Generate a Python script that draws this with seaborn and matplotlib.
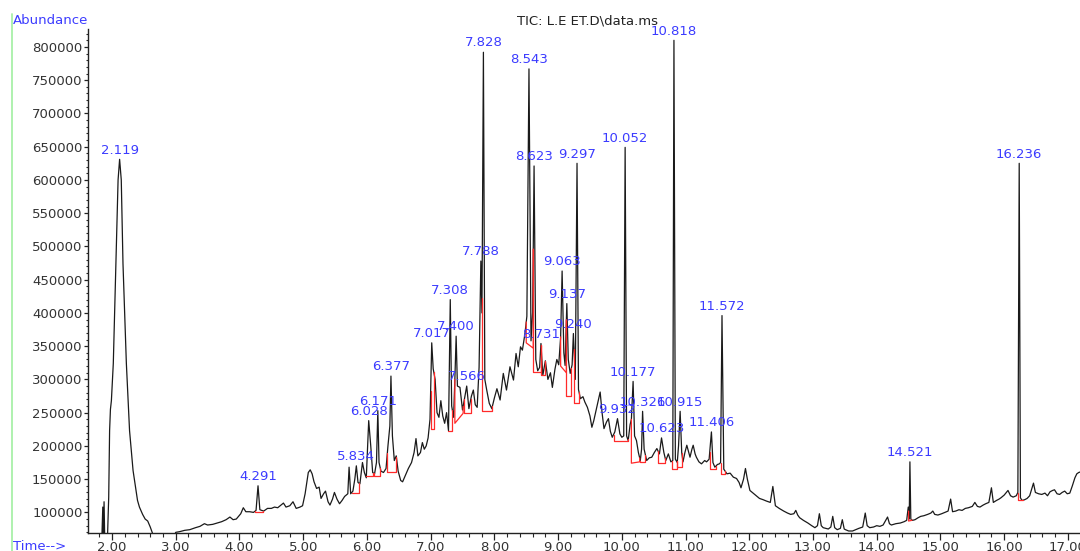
import numpy as np
import pandas as pd
import matplotlib
matplotlib.use("Agg")
import matplotlib.pyplot as plt
from matplotlib.ticker import MultipleLocator, FormatStrFormatter
import seaborn as sns

# TIC trace: retention time (min), abundance (x1000 counts)
rt = [
    1.84, 1.855, 1.865, 1.875, 1.885, 1.90, 1.93, 1.948, 1.962, 1.975, 1.99, 2.02, 2.06, 2.095,
    2.119, 2.145, 2.172, 2.225, 2.275, 2.33, 2.40, 2.43, 2.48, 2.52, 2.56, 2.60, 2.63, 2.66,
    2.80, 2.97, 3.00, 3.06, 3.14, 3.22, 3.31, 3.38, 3.45, 3.50, 3.58, 3.65, 3.72, 3.79, 3.85,
    3.90, 3.95, 4.02, 4.06, 4.10, 4.16, 4.22, 4.26, 4.291, 4.32, 4.38, 4.44, 4.50, 4.55, 4.60,
    4.65, 4.69, 4.73, 4.79, 4.84, 4.89, 4.95, 4.99, 5.03, 5.08, 5.11, 5.14, 5.17, 5.21, 5.25,
    5.28, 5.32, 5.35, 5.39, 5.42, 5.46, 5.49, 5.53, 5.57, 5.61, 5.65, 5.70, 5.72, 5.745, 5.78,
    5.81, 5.834, 5.86, 5.89, 5.93, 5.96, 5.99, 6.028, 6.06, 6.09, 6.12, 6.15, 6.171, 6.19, 6.22,
    6.26, 6.30, 6.33, 6.36, 6.377, 6.40, 6.43, 6.46, 6.49, 6.53, 6.56, 6.60, 6.65, 6.70, 6.74,
    6.77, 6.80, 6.84, 6.87, 6.90, 6.93, 6.96, 6.99, 7.017, 7.04, 7.07, 7.10, 7.13, 7.16, 7.19,
    7.22, 7.25, 7.28, 7.308, 7.33, 7.36, 7.38, 7.400, 7.42, 7.46, 7.50, 7.53, 7.566, 7.60, 7.64,
    7.67, 7.70, 7.73, 7.76, 7.788, 7.805, 7.828, 7.85, 7.88, 7.92, 7.96, 8.00, 8.04, 8.09, 8.14,
    8.19, 8.245, 8.30, 8.34, 8.375, 8.41, 8.44, 8.48, 8.51, 8.543, 8.575, 8.60, 8.623, 8.65,
    8.68, 8.71, 8.731, 8.76, 8.80, 8.84, 8.88, 8.91, 8.95, 8.98, 9.01, 9.04, 9.063, 9.09, 9.11,
    9.137, 9.16, 9.19, 9.22, 9.24, 9.27, 9.297, 9.32, 9.35, 9.39, 9.42, 9.46, 9.50, 9.53, 9.56,
    9.60, 9.66, 9.69, 9.72, 9.76, 9.79, 9.82, 9.85, 9.89, 9.932, 9.97, 10.00, 10.03, 10.052,
    10.075, 10.10, 10.13, 10.15, 10.177, 10.20, 10.23, 10.26, 10.29, 10.31, 10.326, 10.35,
    10.39, 10.43, 10.47, 10.51, 10.55, 10.59, 10.623, 10.66, 10.69, 10.73, 10.77, 10.80, 10.818,
    10.84, 10.87, 10.89, 10.915, 10.94, 10.96, 10.99, 11.02, 11.05, 11.07, 11.10, 11.12, 11.15,
    11.17, 11.21, 11.25, 11.30, 11.33, 11.37, 11.406, 11.43, 11.46, 11.50, 11.53, 11.55, 11.572,
    11.60, 11.65, 11.70, 11.75, 11.80, 11.84, 11.87, 11.91, 11.94, 11.97, 12.01, 12.06, 12.11,
    12.16, 12.22, 12.27, 12.33, 12.37, 12.41, 12.47, 12.54, 12.60, 12.65, 12.70, 12.73, 12.76,
    12.79, 12.85, 12.92, 12.98, 13.03, 13.07, 13.10, 13.13, 13.16, 13.24, 13.28, 13.31, 13.34,
    13.38, 13.43, 13.46, 13.49, 13.51, 13.56, 13.62, 13.67, 13.72, 13.78, 13.82, 13.85, 13.89,
    13.95, 14.00, 14.05, 14.10, 14.17, 14.20, 14.23, 14.30, 14.37, 14.43, 14.47, 14.495, 14.51,
    14.521, 14.535, 14.56, 14.60, 14.65, 14.69, 14.74, 14.80, 14.85, 14.88, 14.91, 14.96, 15.02,
    15.07, 15.12, 15.16, 15.19, 15.24, 15.29, 15.34, 15.39, 15.44, 15.50, 15.54, 15.58, 15.62,
    15.67, 15.71, 15.76, 15.80, 15.83, 15.88, 15.92, 15.95, 16.00, 16.06, 16.10, 16.14, 16.19,
    16.215, 16.236, 16.255, 16.28, 16.32, 16.36, 16.40, 16.44, 16.46, 16.49, 16.54, 16.59,
    16.64, 16.68, 16.72, 16.76, 16.79, 16.83, 16.87, 16.91, 16.95, 16.99, 17.03, 17.07, 17.11,
    17.14, 17.17, 17.20,
]
abund_k = [
    60, 108, 62, 116, 62, 64, 66, 123, 223, 255, 268, 324, 474, 600,
    631, 600, 474, 324, 223, 163, 118, 108, 97, 90, 87, 78, 70, 62,
    58, 64, 70, 71, 73, 74, 77, 79, 83, 81, 82, 84, 86, 89, 93,
    89, 90, 98, 107, 101, 101, 100, 103, 140, 104, 102, 106, 106, 108, 107,
    111, 114, 108, 110, 116, 106, 108, 110, 128, 160, 164, 158, 146, 136, 138,
    121, 128, 132, 116, 111, 120, 130, 120, 113, 118, 124, 128, 168, 128, 132,
    150, 170, 145, 143, 175, 160, 152, 238, 200, 160, 158, 175, 253, 175, 162,
    160, 166, 200, 230, 305, 215, 178, 185, 162, 148, 146, 155, 166, 175, 190,
    211, 185, 190, 205, 195, 200, 212, 240, 355, 316, 300, 250, 243, 268, 245,
    234, 250, 223, 420, 260, 243, 300, 365, 290, 288, 254, 270, 290, 256, 275,
    284, 262, 258, 318, 478, 400, 792, 300, 284, 264, 256, 272, 286, 269, 309,
    284, 319, 299, 339, 319, 349, 344, 369, 395, 767, 358, 400, 621, 330,
    313, 318, 354, 306, 328, 300, 310, 288, 315, 330, 322, 364, 463, 340, 321,
    414, 330, 309, 322, 369, 300, 625, 285, 271, 274, 266, 258, 245, 228, 238,
    255, 281, 250, 226, 236, 241, 222, 213, 221, 241, 218, 213, 215, 649,
    215, 208, 232, 240, 297, 215, 208, 190, 178, 195, 252, 195,
    178, 182, 183, 190, 196, 188, 212, 190, 178, 188, 176, 178, 810,
    180, 175, 200, 252, 190, 176, 190, 201, 190, 183, 195, 201, 188,
    183, 176, 173, 178, 176, 180, 221, 175, 168, 172, 173, 175, 396,
    165, 158, 159, 153, 151, 145, 137, 150, 166, 150, 133, 129, 125,
    121, 119, 117, 115, 139, 110, 106, 102, 99, 97, 98, 103, 96,
    92, 88, 84, 80, 77, 80, 98, 80, 77, 75, 78, 94, 77,
    74, 76, 89, 75, 74, 72, 72, 74, 76, 78, 99, 80, 77,
    78, 80, 79, 81, 93, 83, 81, 83, 84, 86, 88, 108, 90,
    176, 90, 88, 89, 92, 94, 95, 97, 99, 102, 97, 96, 98,
    100, 102, 120, 101, 102, 104, 103, 106, 107, 109, 115, 109, 108,
    111, 113, 115, 137, 115, 118, 120, 122, 126, 133, 125, 123, 125,
    130, 625, 122, 118, 119, 121, 125, 138, 144, 130, 128, 127,
    129, 125, 131, 133, 134, 128, 127, 130, 132, 128, 129, 140, 152,
    158, 160, 161,
]

# labelled peaks
peak_labels = ["2.119", "4.291", "5.834", "6.028", "6.171", "6.377", "7.017", "7.308", "7.400",
               "7.566", "7.788", "7.828", "8.543", "8.623", "8.731", "9.063", "9.137", "9.240",
               "9.297", "9.932", "10.052", "10.177", "10.326", "10.623", "10.818", "10.915",
               "11.406", "11.572", "14.521", "16.236"]
peak_rt = [2.119, 4.291, 5.834, 6.028, 6.171, 6.377, 7.017, 7.308, 7.400, 7.566, 7.788, 7.828,
           8.543, 8.623, 8.731, 9.063, 9.137, 9.240, 9.297, 9.932, 10.052, 10.177, 10.326,
           10.623, 10.818, 10.915, 11.406, 11.572, 14.521, 16.236]
peak_abund_k = [631, 140, 170, 238, 253, 305, 355, 420, 365, 290, 478, 792, 767, 621, 354, 463,
                414, 369, 625, 241, 649, 297, 252, 212, 810, 252, 221, 396, 176, 625]

# red integration baselines: start / end time and base level (x1000) at each end
base_start = [4.24, 5.76, 5.98, 6.11, 6.32, 7.00, 7.28, 7.38, 7.53, 7.80, 8.50, 8.61, 8.73,
              9.04, 9.13, 9.25, 9.87, 10.15, 10.29, 10.57, 10.78, 10.86, 11.38, 11.55, 14.50,
              16.21]
base_end = [4.37, 5.87, 6.10, 6.21, 6.45, 7.05, 7.34, 7.51, 7.63, 7.97, 8.61, 8.73, 8.80,
            9.13, 9.21, 9.33, 10.09, 10.28, 10.37, 10.68, 10.86, 10.94, 11.48, 11.62, 14.55,
            16.30]
base_lo = [100, 129, 154, 155, 160, 225, 222, 234, 250, 253, 355, 311, 306,
           320, 275, 264, 208, 174, 176, 174, 166, 168, 166, 158, 87, 118]
base_hi = [100, 129, 154, 155, 160, 225, 222, 249, 250, 253, 347, 311, 306,
           310, 275, 264, 208, 176, 176, 174, 166, 168, 166, 158, 88, 118]

BLUE = "#3b3bff"
RED = "#ff2a2a"

df = pd.DataFrame({"Time": rt, "Abundance": np.array(abund_k) * 1000})

sns.set_style("white")
plt.rcParams["font.family"] = ["DejaVu Sans"]

fig = plt.figure(figsize=(10.8, 5.51), dpi=100)
ax = fig.add_axes([88 / 1080, 1 - 533 / 551, 1 - 88 / 1080, (533 - 29) / 551])

# red baselines under the peaks, joined up to the trace at both ends
for t0, t1, b0, b1 in zip(base_start, base_end, base_lo, base_hi):
    y0 = np.interp(t0, df["Time"], df["Abundance"])
    y1 = np.interp(t1, df["Time"], df["Abundance"])
    ax.plot([t0, t0, t1, t1], [y0, b0 * 1000, b1 * 1000, y1], color=RED, lw=0.9, zorder=3)

sns.lineplot(data=df, x="Time", y="Abundance", ax=ax, color="#1a1a1a", lw=0.9,
             estimator=None, sort=False, zorder=2)

for lbl, t, a in zip(peak_labels, peak_rt, peak_abund_k):
    ax.annotate(lbl, (t, a * 1000), xytext=(0, 2), textcoords="offset points",
                ha="center", va="bottom", color=BLUE, fontsize=9.5, annotation_clip=False)

ax.set_xlim(1.623, 17.19)
ax.set_ylim(69000, 827000)
ax.set_xlabel("")
ax.set_ylabel("")

ax.xaxis.set_major_locator(MultipleLocator(1))
ax.xaxis.set_minor_locator(MultipleLocator(0.2))
ax.xaxis.set_major_formatter(FormatStrFormatter("%.2f"))
ax.yaxis.set_major_locator(MultipleLocator(50000))
ax.yaxis.set_minor_locator(MultipleLocator(10000))
ax.yaxis.set_major_formatter(FormatStrFormatter("%d"))

ax.tick_params(axis="x", which="major", direction="out", length=5, width=0.9, pad=1,
               labelsize=9.5, labelcolor="#333333", color="#222222", bottom=True)
ax.tick_params(axis="x", which="minor", direction="out", length=3, width=0.8, bottom=True)
ax.tick_params(axis="y", which="major", direction="out", length=3, width=0.9, pad=1,
               labelsize=9.5, labelcolor="#333333", color="#222222", left=True)
ax.tick_params(axis="y", which="minor", direction="out", length=1.5, width=0.8, left=True)

for side in ["top", "right"]:
    ax.spines[side].set_visible(False)
for side in ["left", "bottom"]:
    ax.spines[side].set_color("#222222")
    ax.spines[side].set_linewidth(1.0)

fig.text(13 / 1080, 1 - 20 / 551, "Abundance", color=BLUE, fontsize=9.5, va="center", ha="left")
fig.text(13 / 1080, 1 - 546 / 551, "Time-->", color=BLUE, fontsize=9.5, va="center", ha="left")
fig.text(587.5 / 1080, 1 - 20.5 / 551, "TIC: L.E ET.D\\data.ms", color="#222222", fontsize=9.5,
         va="center", ha="center")
fig.add_artist(plt.Line2D([12 / 1080, 12 / 1080], [0, 1 - 14 / 551], color="#a8f0a8", lw=1.3))

fig.savefig("out.png", dpi=100)
